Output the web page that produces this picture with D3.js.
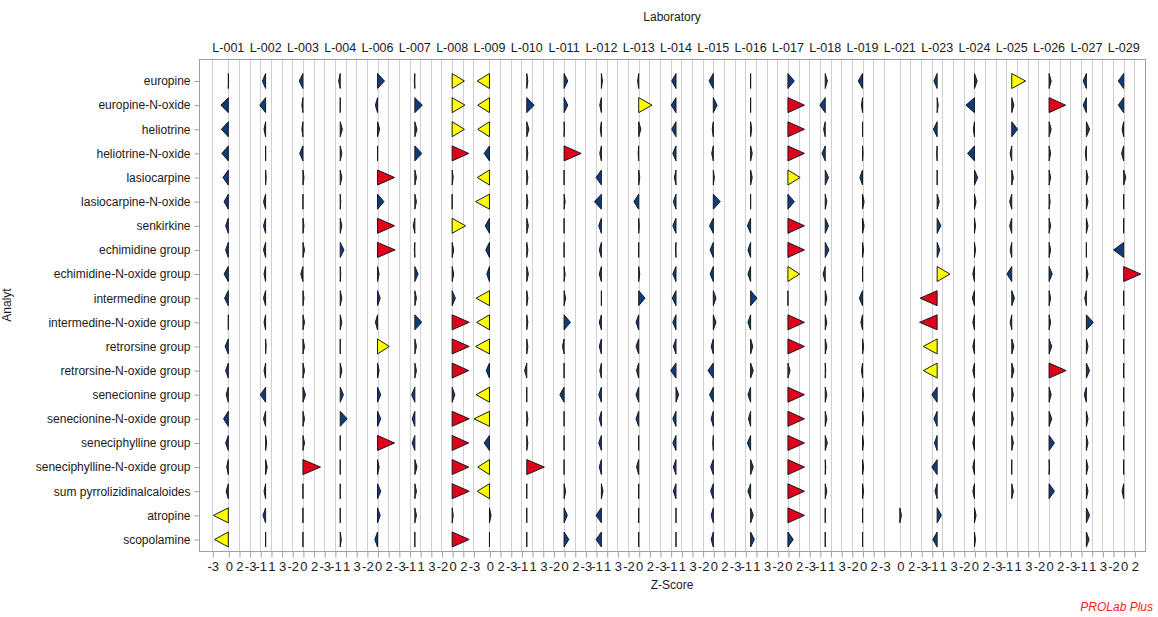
<!DOCTYPE html>
<html>
<head>
<meta charset="utf-8">
<script src="https://cdn.jsdelivr.net/npm/d3@7"></script>
<style>
  html, body { margin: 0; padding: 0; background: #fff; }
  svg { display: block; font-family: "Liberation Sans", Arial, sans-serif; }
</style>
</head>
<body>
<svg id="chart" width="1158" height="617"></svg>
<script>
// Laboratories (columns) and analytes (rows)
const labs = ["L-001","L-002","L-003","L-004","L-006","L-007","L-008","L-009","L-010","L-011",
              "L-012","L-013","L-014","L-015","L-016","L-017","L-018","L-019","L-021","L-023",
              "L-024","L-025","L-026","L-027","L-029"];

const analytes = ["europine","europine-N-oxide","heliotrine","heliotrine-N-oxide","lasiocarpine",
                  "lasiocarpine-N-oxide","senkirkine","echimidine group","echimidine-N-oxide group",
                  "intermedine group","intermedine-N-oxide group","retrorsine group",
                  "retrorsine-N-oxide group","senecionine group","senecionine-N-oxide group",
                  "seneciphylline group","seneciphylline-N-oxide group","sum pyrrolizidinalcaloides",
                  "atropine","scopolamine"];

// Z-scores per analyte, one value per laboratory (null = not reported)
const zEuropine          = [0.05,-0.6,-0.7,-0.3,1.3,-0.1,2.3,-2.3,0.2,0.7,0.2,-0.2,-0.8,-0.8,0.0,1.2,0.4,-0.8,null,-0.6,0.5,2.6,0.4,-0.6,-1.0];
const zEuropineNOx       = [-1.4,-1.1,-0.2,0.0,-0.4,1.4,2.4,-2.2,1.4,0.7,-0.3,2.5,-0.9,0.7,0.0,3.1,-1.0,-0.2,null,0.2,-1.6,0.4,3.1,-0.6,-1.0];
const zHeliotrine        = [-1.3,-0.3,-0.2,0.4,0.4,0.4,2.3,-2.2,0.4,0.1,-0.2,0.4,-0.8,-0.2,0.2,3.1,-0.3,0.0,null,-0.7,-0.2,1.1,0.4,0.6,-0.3];
const zHeliotrineNOx     = [-1.2,0.0,-0.6,0.3,0.0,1.3,3.1,-1.0,0.2,3.2,-0.3,-0.1,-0.6,-0.3,0.3,3.1,-0.6,0.1,null,-0.1,-1.3,-0.3,0.3,-0.2,-0.4];
const zLasiocarpine      = [-1.0,0.1,0.2,0.3,3.2,0.3,0.2,-2.3,0.2,0.0,-1.0,0.2,-0.3,0.2,0.3,2.3,0.6,-0.5,null,0.0,0.6,0.3,0.3,0.3,0.4];
const zLasiocarpineNOx   = [-0.8,-0.4,0.0,0.1,1.2,0.3,0.0,-2.6,0.2,0.2,-1.3,-0.9,-0.5,1.3,0.0,1.2,0.3,0.3,null,0.4,0.3,-0.4,0.2,0.3,0.0];
const zSenkirkine        = [-0.5,-0.4,0.2,0.3,3.2,-0.3,2.5,-0.8,0.3,0.0,-0.5,0.1,-0.6,-0.7,-0.6,3.1,0.6,0.3,null,0.7,0.2,-0.4,0.3,0.3,0.0];
const zEchimidine        = [-0.5,-0.4,0.3,0.7,3.3,-0.1,0.3,-0.7,0.2,0.0,-0.4,0.0,-0.1,-0.6,-0.5,3.1,0.7,0.2,null,0.5,0.2,-0.3,0.3,0.0,-1.9];
const zEchimidineNOx     = [-0.8,-0.3,-0.4,0.1,0.3,0.6,0.3,-0.5,0.3,0.2,-0.4,0.2,-0.6,-0.6,-0.5,2.2,-0.4,0.0,null,2.4,-0.3,-0.9,0.6,0.3,3.2];
const zIntermedine       = [-0.7,-0.4,0.2,0.3,0.5,0.3,0.6,-2.5,0.2,0.3,0.0,1.2,-0.7,0.5,1.2,0.0,0.3,-0.6,null,-3.2,-0.4,0.5,0.3,-0.3,0.0];
const zIntermedineNOx    = [0.0,-0.3,0.3,0.3,-0.4,1.3,3.2,-2.4,0.2,1.2,-0.4,-0.5,-0.6,0.5,-0.5,3.1,0.3,-0.3,null,-3.3,-0.3,-0.3,0.3,1.3,0.0];
const zRetrorsine        = [-0.6,0.1,0.3,0.0,2.2,0.3,3.2,-2.6,0.2,-0.3,-0.4,-0.5,-0.5,-0.4,0.4,3.1,0.3,0.2,null,-2.6,-0.3,0.4,0.5,0.3,0.0];
const zRetrorsineNOx     = [-0.5,-0.3,0.3,0.3,0.3,0.3,3.1,-0.6,-0.4,0.0,-0.3,-0.4,-1.0,-1.0,0.5,0.4,0.1,-0.2,null,-2.6,-0.3,0.4,3.2,0.6,0.0];
const zSenecionine       = [-0.4,-1.0,0.5,0.6,0.6,-0.6,0.5,-2.5,0.0,-0.8,-0.5,-0.5,0.5,-0.7,-0.5,3.1,0.3,0.2,null,-1.0,-0.3,0.3,0.4,-0.4,0.0];
const zSenecionineNOx    = [-0.9,-0.4,0.3,1.3,0.6,-0.5,3.2,-2.9,0.2,0.0,-0.4,-0.5,-0.6,-0.4,-0.4,3.1,0.3,0.2,null,-0.6,-0.4,0.3,0.5,0.3,0.0];
const zSeneciphylline    = [-0.5,0.2,0.3,0.0,3.2,-0.5,3.1,-1.0,0.2,0.0,-0.5,0.0,-0.6,-0.1,-0.6,3.1,0.4,0.2,null,-0.5,-0.3,0.3,1.0,0.3,0.0];
const zSeneciphyllineNOx = [-0.3,0.3,3.3,0.0,0.3,0.4,3.1,-2.2,3.3,0.0,-0.4,-0.4,-0.5,-0.5,0.5,3.1,0.1,0.2,null,-1.0,-0.3,0.0,0.1,0.3,0.0];
const zSumPA             = [-0.4,-0.3,0.0,0.0,0.6,0.3,3.2,-2.3,0.0,0.3,0.3,0.0,-0.5,-0.5,-0.5,3.1,0.3,0.2,null,-0.4,-0.3,0.3,1.0,0.3,-0.3];
const zAtropine          = [-2.8,-0.5,0.0,0.0,0.5,0.3,0.2,0.3,0.0,0.6,-1.0,0.0,0.0,-0.4,0.5,3.1,0.0,0.0,0.3,0.8,0.3,null,null,0.6,null];
const zScopolamine       = [-2.6,0.0,0.0,0.2,-0.5,0.0,3.2,0.0,0.0,0.9,-1.0,0.0,0.0,-0.4,0.7,1.0,0.0,0.0,null,-0.8,0.2,null,null,0.5,null];

const zRows = [zEuropine,zEuropineNOx,zHeliotrine,zHeliotrineNOx,zLasiocarpine,zLasiocarpineNOx,
               zSenkirkine,zEchimidine,zEchimidineNOx,zIntermedine,zIntermedineNOx,zRetrorsine,
               zRetrorsineNOx,zSenecionine,zSenecionineNOx,zSeneciphylline,zSeneciphyllineNOx,
               zSumPA,zAtropine,zScopolamine];

// Each laboratory gets a 7-unit wide slot on one continuous z axis
const slotWidth = 7;
// Tick positions on the continuous axis (slot offsets included);
// the step-2 grid restarts on the zero line of L-009 and L-021
const tickPositions = [-3]
  .concat(d3.range(0, 47, 2))
  .concat(d3.range(49, 124, 2))
  .concat(d3.range(126, 171, 2));
// Tick label = z value within its slot
const tickLabel = v => {
  const r = v - slotWidth * Math.round(v / slotWidth);
  return String(r === 0 ? 0 : r);
};

const svg = d3.select("#chart");
const plot = { left: 199, right: 1145, top: 59, bottom: 551 };

const x = d3.scaleLinear().domain([-5.5, 172]).range([plot.left, plot.right]);
const y = d3.scalePoint().domain(analytes).range([80.5, 539]);
const labPos = d3.scaleOrdinal().domain(labs).range(labs.map((_, i) => i * slotWidth));

const colour = z => {
  const a = Math.abs(z);
  if (a > 3) return "#e0001b";
  if (a > 2) return "#ffff00";
  return "#0d3d7f";
};

// Vertical grid lines
svg.append("g").selectAll("line")
  .data(tickPositions)
  .join("line")
  .attr("x1", d => Math.round(x(d)) + 0.5).attr("x2", d => Math.round(x(d)) + 0.5)
  .attr("y1", plot.top).attr("y2", plot.bottom)
  .attr("stroke", "#d0d0d0").attr("stroke-width", 1);

// Plot frame
svg.append("rect")
  .attr("x", plot.left + 0.5).attr("y", plot.top + 0.5)
  .attr("width", plot.right - plot.left).attr("height", plot.bottom - plot.top)
  .attr("fill", "none").attr("stroke", "#a0a0a0");

// Bottom z axis
const xAxis = d3.axisBottom(x)
  .tickValues(tickPositions)
  .tickFormat(tickLabel)
  .tickSize(6)
  .tickSizeOuter(0);
const gx = svg.append("g")
  .attr("transform", `translate(0.5,${plot.bottom + 0.5})`)
  .call(xAxis);
gx.select(".domain").remove();
gx.selectAll(".tick line").attr("stroke", "#a0a0a0");
gx.selectAll(".tick text")
  .attr("y", 10)
  .attr("fill", "#1a1a1a")
  .style("font-size", "13px")
  .style("font-family", "Liberation Sans, Arial, sans-serif");

// Left analyte axis
const yAxis = d3.axisLeft(y).tickSize(5).tickSizeOuter(0).tickPadding(4);
const gy = svg.append("g")
  .attr("transform", `translate(${plot.left + 0.5},0.5)`)
  .call(yAxis);
gy.select(".domain").remove();
gy.selectAll(".tick line").attr("stroke", "#a0a0a0");
gy.selectAll(".tick text")
  .attr("fill", "#1a1a1a")
  .style("font-size", "12px")
  .style("font-family", "Liberation Sans, Arial, sans-serif");

// Laboratory headers
svg.append("g").selectAll("text")
  .data(labs)
  .join("text")
  .attr("x", d => x(labPos(d)))
  .attr("y", 52)
  .attr("text-anchor", "middle")
  .attr("fill", "#1a1a1a")
  .style("font-size", "12.5px")
  .text(d => d);

// Z-score triangles: base on the lab's zero line, tip at the z value
const markers = [];
zRows.forEach((row, ri) => {
  row.forEach((z, li) => {
    if (z === null) return;
    markers.push({ analyte: analytes[ri], lab: labs[li], z });
  });
});

const halfH = 7.5;
svg.append("g").selectAll("path")
  .data(markers)
  .join("path")
  .attr("d", d => {
    const x0 = x(labPos(d.lab));
    const x1 = x(labPos(d.lab) + d.z);
    const yc = y(d.analyte) + 0.5;
    return `M${x0},${yc - halfH}L${x0},${yc + halfH}L${x1},${yc}Z`;
  })
  .attr("fill", d => colour(d.z))
  .attr("stroke", "#1a1a1a")
  .attr("stroke-width", 1)
  .attr("stroke-linejoin", "miter");

// Titles
svg.append("text")
  .attr("x", (plot.left + plot.right) / 2).attr("y", 21)
  .attr("text-anchor", "middle").attr("fill", "#1a1a1a")
  .style("font-size", "12px").text("Laboratory");

svg.append("text")
  .attr("x", (plot.left + plot.right) / 2).attr("y", 589)
  .attr("text-anchor", "middle").attr("fill", "#1a1a1a")
  .style("font-size", "12px").text("Z-Score");

svg.append("text")
  .attr("transform", `translate(11,${(plot.top + plot.bottom) / 2}) rotate(-90)`)
  .attr("text-anchor", "middle").attr("fill", "#1a1a1a")
  .style("font-size", "12px").text("Analyt");

svg.append("text")
  .attr("x", 1153).attr("y", 611)
  .attr("text-anchor", "end").attr("fill", "#ff2020")
  .style("font-size", "12px").style("font-style", "italic")
  .text("PROLab Plus");
</script>
</body>
</html>
